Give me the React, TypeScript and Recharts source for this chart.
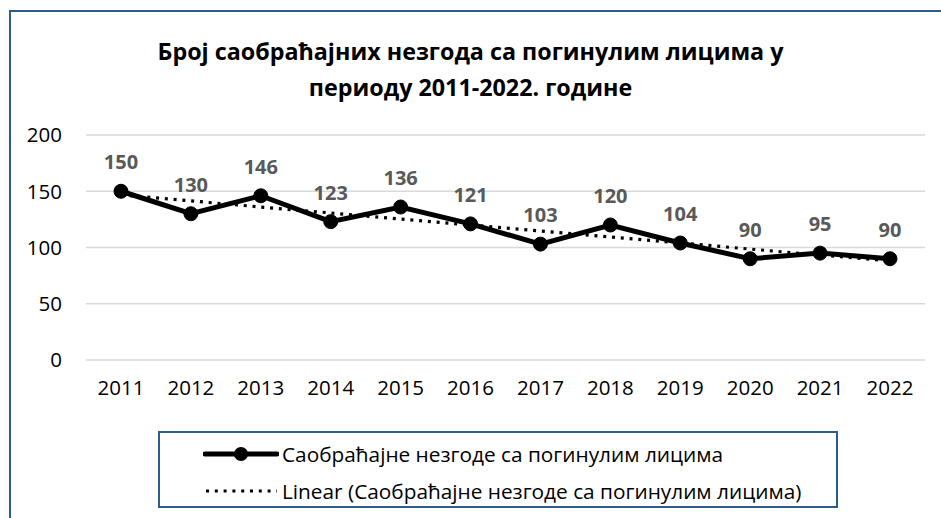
import React from "react";
import { LineChart, Line, XAxis, YAxis, CartesianGrid, LabelList } from "recharts";

const years = ["2011", "2012", "2013", "2014", "2015", "2016", "2017", "2018", "2019", "2020", "2021", "2022"];
const fatalAccidents = [150, 130, 146, 123, 136, 121, 103, 120, 104, 90, 95, 90];
// linear trend
const trend = [146.7, 141.4, 136.0, 130.7, 125.3, 120.0, 114.7, 109.3, 104.0, 98.6, 93.3, 88.0];
const yTicks = [0, 50, 100, 150, 200];

const seriesName = "Саобраћајне незгоде са погинулим лицима";
const trendName = "Linear (Саобраћајне незгоде са погинулим лицима)";

const FONT = "'Open Sans', 'Noto Sans', sans-serif";

const data = years.map((year, i) => ({
  year,
  value: fatalAccidents[i],
  trend: trend[i],
}));

const LegendBox = () => (
  <div
    style={{
      position: "absolute",
      left: 158,
      top: 431,
      width: 676,
      height: 73,
      border: "2px solid #2f5a8c",
      fontFamily: FONT,
      fontSize: 20.8,
      color: "#000",
    }}
  >
    <div style={{ position: "absolute", left: 43, top: 7, display: "flex", alignItems: "center" }}>
      <svg width={76} height={20}>
        <line x1={2} y1={10} x2={74} y2={10} stroke="#000" strokeWidth={5} strokeLinecap="round" />
        <circle cx={38} cy={10} r={7} fill="#000" />
      </svg>
      <span style={{ marginLeft: 3 }}>{seriesName}</span>
    </div>
    <div style={{ position: "absolute", left: 43, top: 44, display: "flex", alignItems: "center" }}>
      <svg width={76} height={20}>
        <line x1={3} y1={10} x2={74} y2={10} stroke="#000" strokeWidth={3.2} strokeDasharray="3 5.8" />
      </svg>
      <span style={{ marginLeft: 3 }}>{trendName}</span>
    </div>
  </div>
);

export default function App() {
  return (
    <div style={{ position: "fixed", left: 0, top: 0, width: 941, height: 518, overflow: "hidden", background: "#fff" }}>
      <div
        style={{
          position: "absolute",
          left: 9,
          top: 10,
          width: 960,
          height: 540,
          border: "2px solid #2f5a8c",
        }}
      />
      <div
        style={{
          position: "absolute",
          left: 0,
          width: 941,
          top: 33,
          textAlign: "center",
          fontFamily: FONT,
          fontWeight: 700,
          fontSize: 23.3,
          lineHeight: "36px",
          color: "#000",
        }}
      >
        Број саобраћајних незгода са погинулим лицима у
        <br />
        периоду 2011-2022. године
      </div>
      <div style={{ position: "absolute", left: 0, top: 0 }}>
        <LineChart
          width={941}
          height={518}
          data={data}
          margin={{ top: 135, right: 16, bottom: 128, left: 0 }}
          style={{ fontFamily: FONT }}
        >
          <CartesianGrid vertical={false} stroke="#d9d9d9" strokeWidth={1.5} />
          <XAxis
            dataKey="year"
            axisLine={false}
            tickLine={false}
            tickSize={0}
            tickMargin={20}
            padding={{ left: 35, right: 35 }}
            tick={{ fill: "#000", fontSize: 20.5 }}
          />
          <YAxis
            domain={[0, 200]}
            ticks={yTicks}
            width={86}
            axisLine={false}
            tickLine={false}
            tickSize={0}
            tickMargin={24}
            tick={{ fill: "#000", fontSize: 20.5 }}
          />
          <Line
            dataKey="trend"
            name={trendName}
            stroke="#000"
            strokeWidth={3.2}
            strokeDasharray="3 5.8"
            dot={false}
            activeDot={false}
            isAnimationActive={false}
          />
          <Line
            dataKey="value"
            name={seriesName}
            stroke="#000"
            strokeWidth={5}
            dot={{ r: 7, fill: "#000", stroke: "#000", strokeWidth: 1 }}
            isAnimationActive={false}
          >
            <LabelList
              dataKey="value"
              position="top"
              offset={22}
              style={{ fill: "#595959", fontWeight: 700, fontSize: 20, fontFamily: FONT }}
            />
          </Line>
        </LineChart>
      </div>
      <LegendBox />
    </div>
  );
}
